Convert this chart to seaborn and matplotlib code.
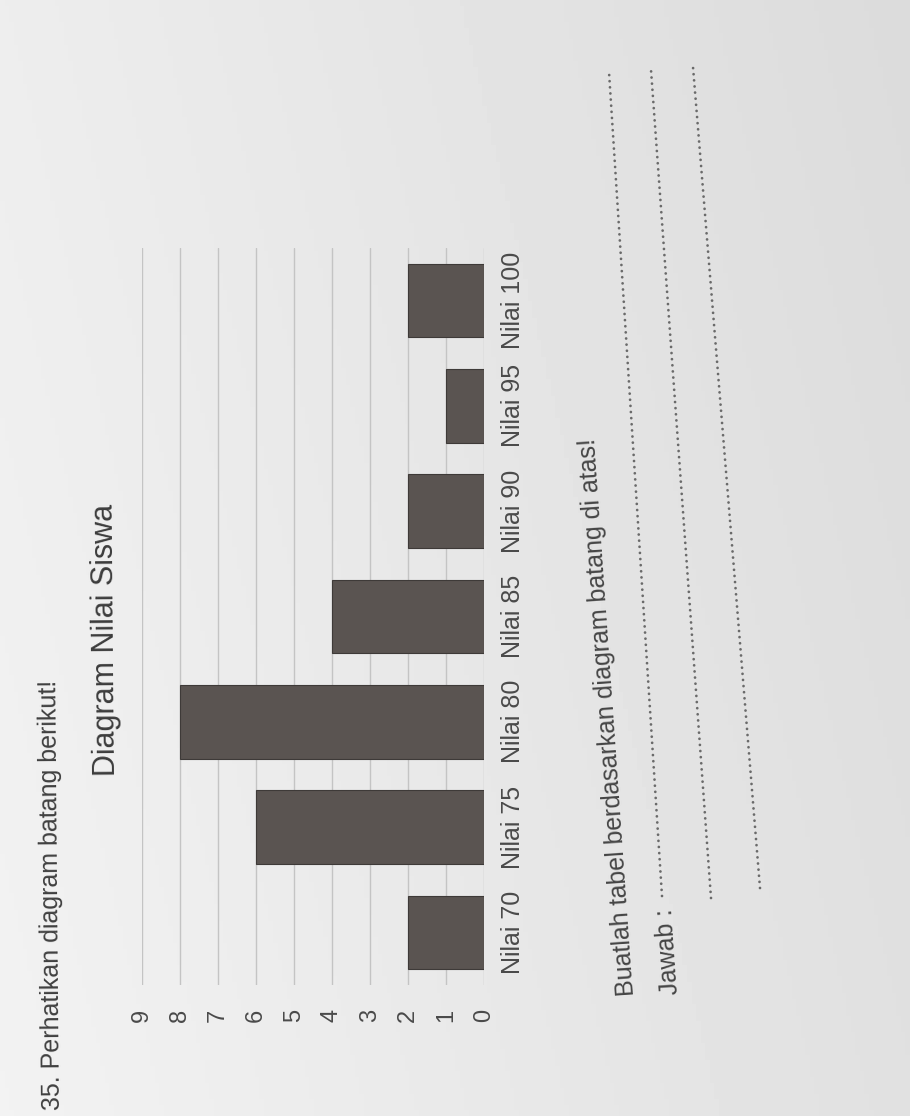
import numpy as np
import pandas as pd
import matplotlib
matplotlib.use('Agg')
import matplotlib.pyplot as plt
import seaborn as sns
from matplotlib.lines import Line2D

# data (chart is rotated 90 degrees)
kategori = ['Nilai 70', 'Nilai 75', 'Nilai 80', 'Nilai 85', 'Nilai 90', 'Nilai 95', 'Nilai 100']
jumlah = [2, 6, 8, 4, 2, 1, 2]
tick_nilai = list(range(0, 10))

judul = 'Diagram Nilai Siswa'
soal = '35. Perhatikan diagram batang berikut!'
perintah = 'Buatlah tabel berdasarkan diagram batang di atas!'
jawab = 'Jawab :'

sns.set_theme(style='white')
plt.rcParams['font.family'] = ['Liberation Sans', 'DejaVu Sans']

W, H = 910, 1116
fig = plt.figure(figsize=(W / 100, H / 100), dpi=100)

# paper background, a bit darker on the right like the photo
bg = fig.add_axes([0, 0, 1, 1], zorder=-10)
gx, gy = np.meshgrid(np.linspace(0, 1, 200), np.linspace(0, 1, 200))
shade = 0.95 - 0.07 * gx - 0.02 * (1 - gy)
bg.imshow(shade, cmap='gray', vmin=0, vmax=1, aspect='auto', origin='upper')
bg.axis('off')

# main chart (horizontal bars growing to the left)
ax = fig.add_axes([142 / W, 1 - 985 / H, 342 / W, (985 - 248) / H])
ax.patch.set_alpha(0)
df = pd.DataFrame({'kategori': kategori, 'jumlah': jumlah})
sns.barplot(data=df, x='jumlah', y='kategori', order=kategori, orient='h',
            color='#5a5451', saturation=1, width=0.7,
            edgecolor='#3e3a38', linewidth=0.8, ax=ax, zorder=3)

ax.set_xlim(9, 0)
ax.set_ylim(-0.5, len(kategori) - 0.5)
ax.set_xticks(tick_nilai)
ax.set_xticklabels([str(t) for t in tick_nilai], rotation=90, ha='center', va='top',
                   fontsize=17, color='#4a4a4a')
ax.tick_params(axis='x', length=0, pad=17)
ax.yaxis.tick_right()
ax.set_yticks(range(len(kategori)))
ax.set_yticklabels(kategori, rotation=90, va='center', ha='left', fontsize=18, color='#4a4a4a')
ax.tick_params(axis='y', length=0, pad=12)
ax.grid(True, axis='x', color='#c4c4c4', lw=1)
ax.grid(False, axis='y')
ax.set_axisbelow(True)
for s in ax.spines.values():
    s.set_visible(False)
ax.set_xlabel('')
ax.set_ylabel('')

# worksheet texts
fig.text(106 / W, 1 - 640 / H, judul, rotation=90.5, ha='center', va='center',
         fontsize=22, color='#3c3c3c')
fig.text(51 / W, 1 - 895 / H, soal, rotation=90.5, ha='center', va='center',
         fontsize=18, color='#404040')
fig.text(608 / W, 1 - 717 / H, perintah, rotation=94, ha='center', va='center',
         fontsize=18, color='#454545')
fig.text(668 / W, 1 - 952 / H, jawab, rotation=94, ha='center', va='center',
         fontsize=18, color='#454545')

# dotted answer lines
garis = [((662, 896), (609, 72)), ((711, 898), (651, 70)), ((760, 888), (693, 67))]
for (x0, y0), (x1, y1) in garis:
    fig.add_artist(Line2D([x0 / W, x1 / W], [1 - y0 / H, 1 - y1 / H],
                          transform=fig.transFigure, color='#6a6a6a', lw=2,
                          linestyle=(0, (0.01, 2.2)), dash_capstyle='round'))

fig.savefig('out.png', dpi=100)
